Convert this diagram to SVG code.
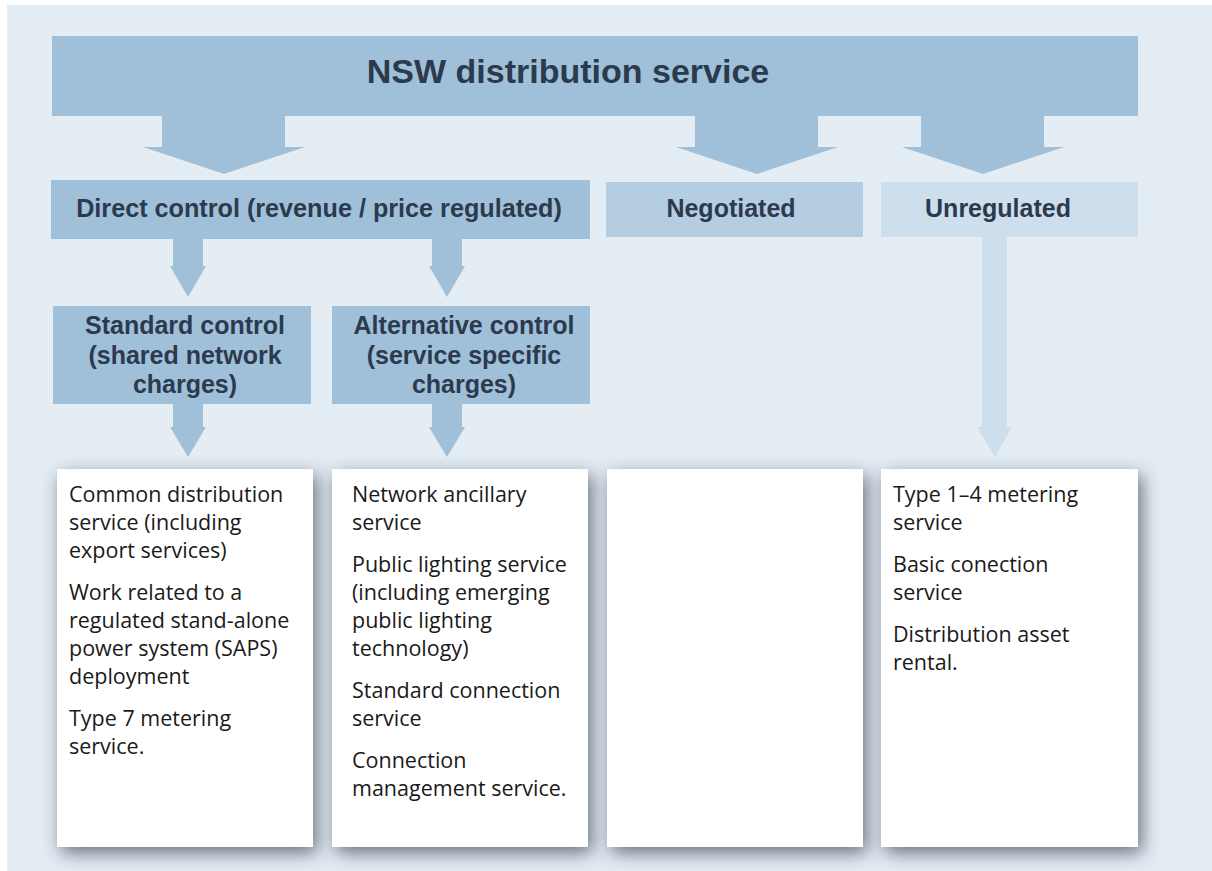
<svg xmlns="http://www.w3.org/2000/svg" width="1212" height="871" viewBox="0 0 1212 871">
<defs>
<filter id="sh" x="-25%" y="-10%" width="150%" height="125%">
<feDropShadow dx="4" dy="6" stdDeviation="9" flood-color="#34404c" flood-opacity="0.7"/>
</filter>
</defs>
<style>
.mid{fill:#a0c0da}
.neg{fill:#b5cde1}
.unr{fill:#cddeec}
.card{fill:#ffffff}
.h{font-family:"Liberation Sans",Arial,sans-serif;font-weight:bold;fill:#2b3a4d;text-anchor:middle}
.b{font-family:"Open Sans","Noto Sans",sans-serif;font-size:21.5px;fill:#1a1a1a}
</style>
<rect x="0" y="0" width="1212" height="871" fill="#ffffff"/>
<rect x="7" y="5" width="1205" height="866" fill="#e4ecf4"/>

<g id="connectors">
<polygon class="mid" points="162,114 285,114 285,147 305,147 224,174 143,147 162,147"/>
<polygon class="mid" points="695,114 818,114 818,147 838,147 757,174 676,147 695,147"/>
<polygon class="mid" points="921,114 1044,114 1044,147 1064,147 983,174 902,147 921,147"/>
<polygon class="mid" points="173,238 203,238 203,266 206,266 188,297 170,266 173,266"/>
<polygon class="mid" points="432,238 462,238 462,266 465,266 447,297 429,266 432,266"/>
<polygon class="mid" points="173,403 203,403 203,427 206,427 188,457 170,427 173,427"/>
<polygon class="mid" points="432,403 462,403 462,427 465,427 447,457 429,427 432,427"/>
<polygon class="unr" points="982,236 1007,236 1007,427 1012,427 995,457 977,427 982,427"/>
</g>

<g id="nsw">
<rect class="mid" x="52" y="36" width="1086" height="80"/>
<text class="h" x="568" y="83" font-size="34">NSW distribution service</text>
</g>

<g id="direct">
<rect class="mid" x="51" y="180" width="539" height="59"/>
<text class="h" x="319" y="217" font-size="25.2">Direct control (revenue / price regulated)</text>
</g>

<g id="negotiated">
<rect class="neg" x="606" y="182" width="257" height="55"/>
<text class="h" x="731" y="217" font-size="25">Negotiated</text>
</g>

<g id="unregulated">
<rect class="unr" x="881" y="182" width="257" height="55"/>
<text class="h" x="998" y="217" font-size="25">Unregulated</text>
</g>

<g id="standard">
<rect class="mid" x="53" y="306" width="258" height="98"/>
<text class="h" x="185" y="334" font-size="25">Standard control</text>
<text class="h" x="185" y="364" font-size="25">(shared network</text>
<text class="h" x="185" y="393" font-size="25">charges)</text>
</g>

<g id="alternative">
<rect class="mid" x="332" y="306" width="258" height="98"/>
<text class="h" x="464" y="334" font-size="25">Alternative control</text>
<text class="h" x="464" y="364" font-size="25">(service specific</text>
<text class="h" x="464" y="393" font-size="25">charges)</text>
</g>

<g id="list-standard">
<rect class="card" x="57" y="469" width="256" height="378" filter="url(#sh)"/>
<text class="b" x="69" y="502">Common distribution</text>
<text class="b" x="69" y="530">service (including</text>
<text class="b" x="69" y="558">export services)</text>
<text class="b" x="69" y="600">Work related to a</text>
<text class="b" x="69" y="628">regulated stand-alone</text>
<text class="b" x="69" y="656">power system (SAPS)</text>
<text class="b" x="69" y="684">deployment</text>
<text class="b" x="69" y="726">Type 7 metering</text>
<text class="b" x="69" y="754">service.</text>
</g>

<g id="list-alternative">
<rect class="card" x="332" y="469" width="256" height="378" filter="url(#sh)"/>
<text class="b" x="352" y="502">Network ancillary</text>
<text class="b" x="352" y="530">service</text>
<text class="b" x="352" y="572">Public lighting service</text>
<text class="b" x="352" y="600">(including emerging</text>
<text class="b" x="352" y="628">public lighting</text>
<text class="b" x="352" y="656">technology)</text>
<text class="b" x="352" y="698">Standard connection</text>
<text class="b" x="352" y="726">service</text>
<text class="b" x="352" y="768">Connection</text>
<text class="b" x="352" y="796">management service.</text>
</g>

<g id="list-negotiated">
<rect class="card" x="607" y="469" width="256" height="378" filter="url(#sh)"/>
</g>

<g id="list-unregulated">
<rect class="card" x="881" y="469" width="257" height="378" filter="url(#sh)"/>
<text class="b" x="893" y="502">Type 1–4 metering</text>
<text class="b" x="893" y="530">service</text>
<text class="b" x="893" y="572">Basic conection</text>
<text class="b" x="893" y="600">service</text>
<text class="b" x="893" y="642">Distribution asset</text>
<text class="b" x="893" y="670">rental.</text>
</g>
</svg>
